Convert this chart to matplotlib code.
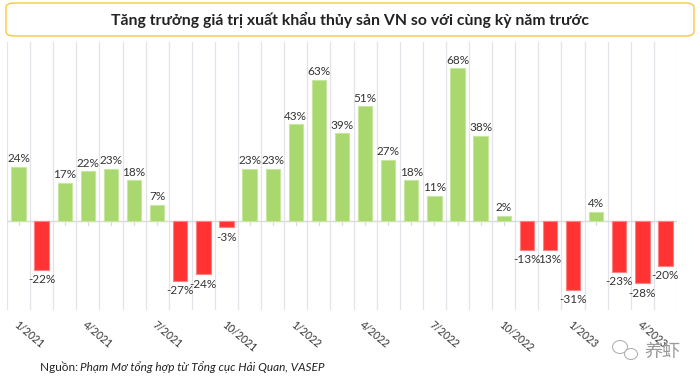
import matplotlib
matplotlib.use("Agg")
import matplotlib.pyplot as plt
from matplotlib.patches import FancyBboxPatch, Ellipse
import numpy as np

months = ["1/2021","2/2021","3/2021","4/2021","5/2021","6/2021","7/2021","8/2021","9/2021","10/2021",
          "11/2021","12/2021","1/2022","2/2022","3/2022","4/2022","5/2022","6/2022","7/2022","8/2022",
          "9/2022","10/2022","11/2022","12/2022","1/2023","2/2023","3/2023","4/2023","5/2023"]
growth = [24, -22, 17, 22, 23, 18, 7, -27, -24, -3, 23, 23, 43, 63, 39, 51, 27, 18, 11, 68, 38, 2,
          -13, -13, -31, 4, -23, -28, -20]
label_texts = ["24%","-22%","17%","22%","23%","18%","7%","-27%","-24%","-3%","23%","23%","43%","63%",
               "39%","51%","27%","18%","11%","68%","38%","2%","-13%","13%","-31%","4%","-23%","-28%","-20%"]
tick_every = 3

plt.rcParams['font.family'] = ['Lato', 'DejaVu Sans']

W, H = 700, 384
fig = plt.figure(figsize=(7, 3.84), dpi=100)

def fx(px): return px / W
def fy(py): return 1 - py / H

ax = fig.add_axes([fx(7), fy(310.3), fx(677) - fx(7), fy(41.5) - fy(310.3)])
x = np.arange(len(growth))
colors = ['#A9D86E' if v >= 0 else '#FF3333' for v in growth]
edges = ['#C8E6A0' if v >= 0 else '#FF8080' for v in growth]
ax.bar(x, growth, width=0.62, color=colors, edgecolor=edges, linewidth=0.8, zorder=2)
ax.set_xlim(-0.5, len(growth) - 0.5)
ax.set_ylim(-40, 80)

for b in np.arange(-0.5, len(growth), 1.0):
    ax.axvline(b, color='#E3E3EA', lw=0.9, zorder=0)
ax.axhline(0, color='#DADADA', lw=1.0, zorder=1)
for xi in x:
    ax.plot([xi, xi], [0, -1.8], color='#DADADA', lw=0.8, zorder=1)

for xi, v, t in zip(x, growth, label_texts):
    if v >= 0:
        ax.annotate(t, (xi, v), xytext=(0, 2), textcoords='offset points', ha='center', va='bottom',
                    fontsize=8.5, color='#333333')
    else:
        ax.annotate(t, (xi, v), xytext=(0, -3), textcoords='offset points', ha='center', va='top',
                    fontsize=8.5, color='#333333')

for s in ax.spines.values():
    s.set_visible(False)
ax.set_yticks([])
ticks = x[::tick_every]
ax.set_xticks(ticks)
ax.set_xticklabels([months[i] for i in ticks], rotation=-40, ha='left', va='top',
                   rotation_mode='anchor', fontsize=7.6, color='#333333')
ax.tick_params(axis='x', length=0, pad=6)

# Title box
box = FancyBboxPatch((fx(6), fy(36)), fx(694) - fx(6), fy(3) - fy(36),
                     boxstyle="round,pad=0,rounding_size=0.012", transform=fig.transFigure,
                     facecolor='white', edgecolor='#F5C842', linewidth=1.0)
fig.patches.append(box)
fig.text(0.5, fy(19.5), "Tăng trưởng giá trị xuất khẩu thủy sản VN so với cùng kỳ năm trước",
         ha='center', va='center', fontsize=11.3, fontweight='bold', color='#222222')

# Source
fig.text(fx(40), fy(367), "Nguồn: ", ha='left', va='center', fontsize=8.5, color='#222222')
fig.text(fx(80), fy(367), "Phạm Mơ tổng hợp từ Tổng cục Hải Quan, VASEP", ha='left', va='center',
         fontsize=8.5, style='italic', color='#222222')

# Watermark
fig.text(fx(644), fy(352), "养虾", ha='left', va='center', fontsize=13,
         family=['Noto Sans CJK SC', 'DejaVu Sans'], color='#9A9A9A')
fig.patches.append(Ellipse((fx(620), fy(347)), fx(15), 13 / H, transform=fig.transFigure,
                           fill=False, edgecolor='#AAAAAA', lw=0.7))
fig.patches.append(Ellipse((fx(631), fy(354)), fx(13), 11 / H, transform=fig.transFigure,
                           facecolor='white', edgecolor='#AAAAAA', lw=0.7))

fig.savefig("out.png", dpi=100)
